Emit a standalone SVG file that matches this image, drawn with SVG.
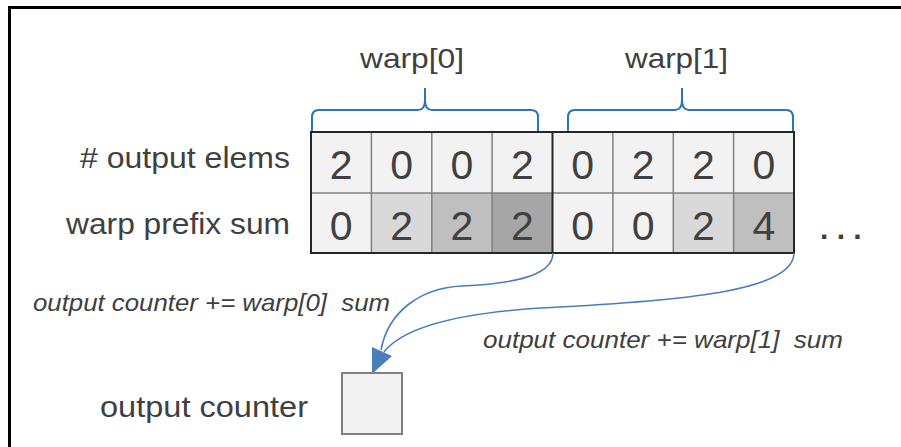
<svg xmlns="http://www.w3.org/2000/svg" width="901" height="447" viewBox="0 0 901 447">
<style>
.t{font-family:"Liberation Sans",Arial,sans-serif;fill:#404040}
.d{font-size:41px;text-anchor:middle}
.it{font-style:italic;font-size:24px}
.c{stroke:#808080;stroke-width:1.5}
.brace{fill:none;stroke:#2e75b6;stroke-width:2}
.con{fill:none;stroke:#4a7ebb;stroke-width:1.6}
</style>
<rect x="9.5" y="7.5" width="1000" height="1000" fill="#fff" stroke="#000" stroke-width="3"/>

<g id="warp0-label">
<path class="brace" d="M312,131 V117 Q312,110 319,110 H418 Q425,110 425,100 V88 M425,100 Q425,110 432,110 H531 Q538,110 538,117 V131"/>
<text class="t" x="360" y="68" font-size="28" textLength="104" lengthAdjust="spacingAndGlyphs">warp[0]</text>
</g>
<g id="warp1-label">
<path class="brace" d="M568,131 V117 Q568,110 575,110 H675 Q682,110 682,100 V88 M682,100 Q682,110 689,110 H786 Q793,110 793,117 V131"/>
<text class="t" x="625" y="68" font-size="28" textLength="103" lengthAdjust="spacingAndGlyphs">warp[1]</text>
</g>

<g id="row-labels">
<text class="t" x="80" y="168" font-size="29" textLength="210" lengthAdjust="spacingAndGlyphs"># output elems</text>
<text class="t" x="66" y="234" font-size="29" textLength="224" lengthAdjust="spacingAndGlyphs">warp prefix sum</text>
</g>

<g id="table">
<rect x="311" y="132" width="483" height="61" fill="#f2f2f2"/>
<rect x="311" y="193" width="483" height="60" fill="#f2f2f2"/>
<rect x="371.4" y="193" width="60.4" height="60" fill="#d9d9d9"/>
<rect x="431.8" y="193" width="60.3" height="60" fill="#bfbfbf"/>
<rect x="492.1" y="193" width="60.4" height="60" fill="#a6a6a6"/>
<rect x="673.3" y="193" width="60.3" height="60" fill="#d9d9d9"/>
<rect x="733.6" y="193" width="60.4" height="60" fill="#bfbfbf"/>
<g class="c">
<line x1="311" y1="193" x2="794" y2="193"/>
<line x1="371.4" y1="132" x2="371.4" y2="253"/>
<line x1="431.8" y1="132" x2="431.8" y2="253"/>
<line x1="492.1" y1="132" x2="492.1" y2="253"/>
<line x1="612.9" y1="132" x2="612.9" y2="253"/>
<line x1="673.3" y1="132" x2="673.3" y2="253"/>
<line x1="733.6" y1="132" x2="733.6" y2="253"/>
</g>
<rect x="311" y="132" width="483" height="121" fill="none" stroke="#262626" stroke-width="2"/>
<line x1="552.5" y1="132" x2="552.5" y2="253" stroke="#262626" stroke-width="2"/>
<g class="t d">
<text x="341.2" y="179">2</text>
<text x="401.6" y="179">0</text>
<text x="461.9" y="179">0</text>
<text x="522.3" y="179">2</text>
<text x="582.7" y="179">0</text>
<text x="643.1" y="179">2</text>
<text x="703.4" y="179">2</text>
<text x="763.8" y="179">0</text>
<text x="341.2" y="240">0</text>
<text x="401.6" y="240">2</text>
<text x="461.9" y="240">2</text>
<text x="522.3" y="240">2</text>
<text x="582.7" y="240">0</text>
<text x="643.1" y="240">0</text>
<text x="703.4" y="240">2</text>
<text x="763.8" y="240">4</text>
</g>
<text class="t" x="820" y="239" font-size="30" font-weight="bold">. . .</text>
</g>

<g id="connectors">
<path class="con" d="M553,253 C553,278 505,284 462,286 C420,288 388,312 381,350"/>
<path class="con" d="M794,253 C794,290 690,300 560,307 C470,311 405,325 384,352"/>
<polygon points="372,374 372,347 392,356" fill="#4a7ebb"/>
<text class="t it" x="33" y="311" textLength="357" lengthAdjust="spacingAndGlyphs" xml:space="preserve">output counter += warp[0]  sum</text>
<text class="t it" x="483" y="348" textLength="360" lengthAdjust="spacingAndGlyphs" xml:space="preserve">output counter += warp[1]  sum</text>
</g>

<g id="output-counter">
<rect x="342" y="373" width="60" height="61" fill="#f2f2f2" stroke="#808080" stroke-width="2"/>
<text class="t" x="100" y="417" font-size="30" textLength="208" lengthAdjust="spacingAndGlyphs">output counter</text>
</g>
</svg>
